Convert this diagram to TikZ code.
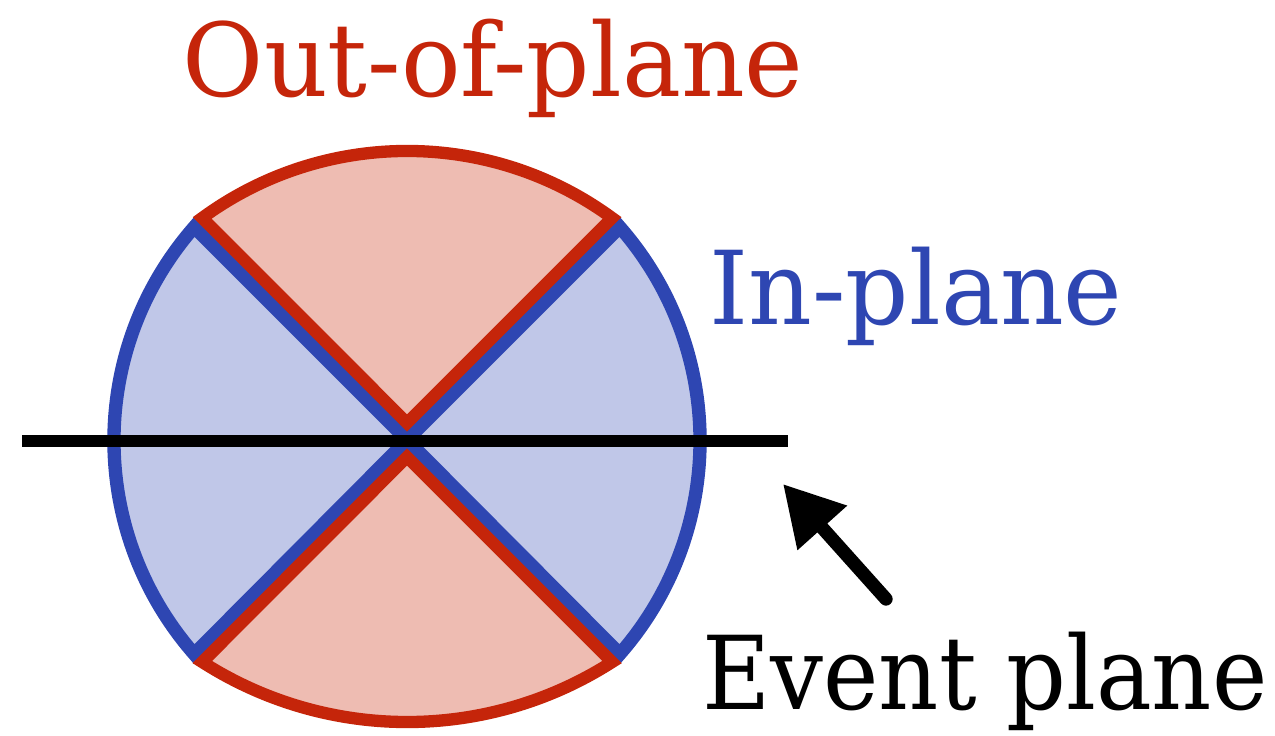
\documentclass[tikz,border=0pt]{standalone}
\usepackage{fontspec}
\setmainfont{DejaVu Serif Condensed}
\newfontfamily\rotulo{DejaVu Serif Condensed}[FakeStretch=1.08]
\newfontfamily\rotuloev{DejaVu Serif Condensed}[FakeStretch=1.02]
\usepackage{xcolor}
\usetikzlibrary{arrows.meta}

\definecolor{rojo}{RGB}{197,37,10}
\definecolor{rosa}{RGB}{238,188,178}
\definecolor{azul}{RGB}{46,70,178}
\definecolor{celeste}{RGB}{192,199,232}

\begin{document}
\begin{tikzpicture}[
  enplano/.style={fill=celeste, draw=azul, line width=3.8pt},
  fueraplano/.style={fill=rosa, draw=rojo, line width=3.5pt},
  etiqueta/.style={anchor=base, inner sep=0pt, font=\rotulo\fontsize{29}{34}\selectfont}
]
\useasboundingbox (0,0) rectangle (12.75,7.36);

% Centro
\coordinate (O) at (4.07,2.96);
\coordinate (Oa) at (4.07,3.13);   % arriba
\coordinate (Ob) at (4.07,2.79);   % abajo

% Sectores en el plano
\draw[enplano] (O) -- ++(45:3.01) arc[start angle=41.2, end angle=-41.2, radius=3.24] -- cycle;
\draw[enplano] (O) -- ++(135:3.01) arc[start angle=138.8, end angle=221.2, radius=3.24] -- cycle;

% Sectores fuera del plano
\draw[fueraplano] (Oa) -- ++(45:2.9) arc[start angle=53.8, end angle=126.2, radius=3.47] -- cycle;
\draw[fueraplano] (Ob) -- ++(-45:2.9) arc[start angle=-57.37, end angle=-122.63, radius=3.80] -- cycle;

% Plano del evento
\coordinate (ejeI) at (0.22,2.95);
\coordinate (ejeD) at (7.88,2.95);
\draw[line width=3.5pt] (ejeI) -- (ejeD);

% Etiquetas
\node[etiqueta, text=rojo] (fuera) at (4.93,6.39) {Out-of-plane};
\node[etiqueta, text=azul] (en) at (9.16,4.11) {In-plane};
\node[etiqueta, font=\rotuloev\fontsize{29}{34}\selectfont] (evento) at (9.85,0.26) {Event plane};

% Flecha
\coordinate (punta) at (7.83,2.52);
\coordinate (cola) at (8.86,1.37);
\draw[line width=3.8pt, line cap=round, -{Triangle[length=5.9mm, width=6.3mm]}] (cola) -- (punta);

\end{tikzpicture}
\end{document}
